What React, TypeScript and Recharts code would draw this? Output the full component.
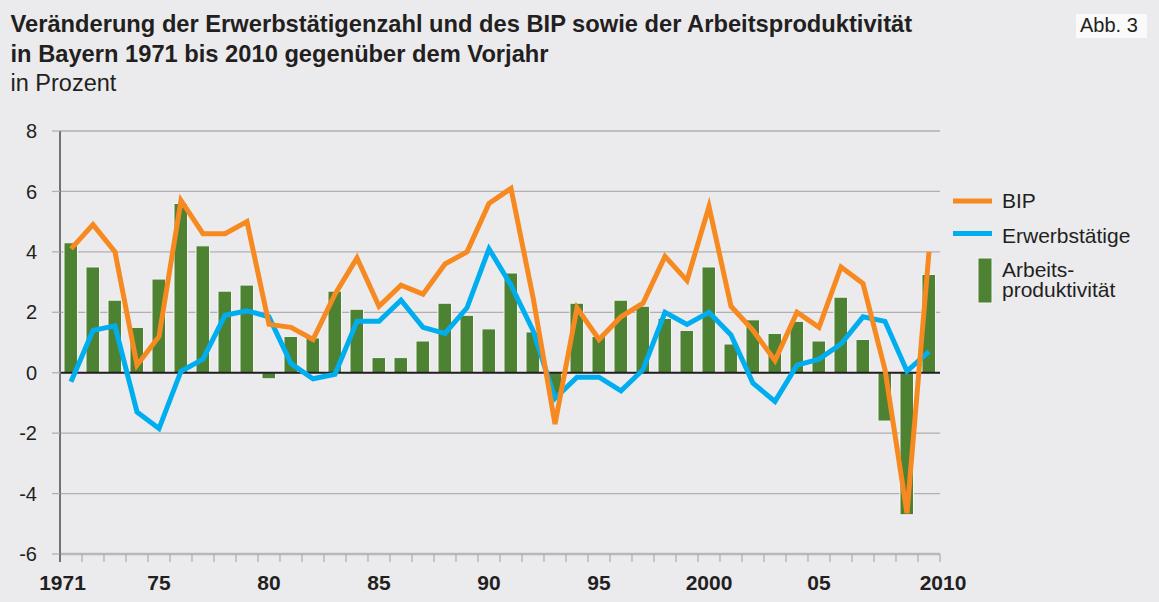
import {
  ComposedChart,
  Bar,
  Line,
  XAxis,
  YAxis,
  CartesianGrid,
  ReferenceLine,
} from "recharts";

const YEARS = [
  1971, 1972, 1973, 1974, 1975, 1976, 1977, 1978, 1979, 1980,
  1981, 1982, 1983, 1984, 1985, 1986, 1987, 1988, 1989, 1990,
  1991, 1992, 1993, 1994, 1995, 1996, 1997, 1998, 1999, 2000,
  2001, 2002, 2003, 2004, 2005, 2006, 2007, 2008, 2009, 2010,
];

const BIP = [
  4.1, 4.9, 4.0, 0.25, 1.2, 5.7, 4.6, 4.6, 5.0, 1.6,
  1.5, 1.1, 2.6, 3.8, 2.2, 2.9, 2.6, 3.6, 4.0, 5.6,
  6.1, 2.5, -1.7, 2.15, 1.1, 1.85, 2.3, 3.85, 3.05, 5.5,
  2.2, 1.4, 0.4, 2.0, 1.5, 3.5, 2.95, 0.1, -4.65, 4.0,
];

const ERWERBSTAETIGE = [
  -0.3, 1.4, 1.55, -1.3, -1.85, 0.05, 0.45, 1.9, 2.05, 1.85,
  0.3, -0.2, -0.05, 1.7, 1.7, 2.4, 1.5, 1.3, 2.15, 4.1,
  2.9, 1.4, -0.85, -0.15, -0.15, -0.6, 0.1, 2.0, 1.6, 2.0,
  1.25, -0.35, -0.95, 0.25, 0.45, 0.95, 1.85, 1.7, 0.05, 0.7,
];

const PRODUKTIVITAET = [
  4.3, 3.5, 2.4, 1.5, 3.1, 5.6, 4.2, 2.7, 2.9, -0.2,
  1.2, 1.15, 2.7, 2.1, 0.5, 0.5, 1.05, 2.3, 1.9, 1.45,
  3.3, 1.35, -0.9, 2.3, 1.2, 2.4, 2.2, 1.8, 1.4, 3.5,
  0.95, 1.75, 1.3, 1.7, 1.05, 2.5, 1.1, -1.6, -4.7, 3.25,
];

const Y_TICKS = [-6, -4, -2, 0, 2, 4, 6, 8];

const X_LABELS: Record<number, string> = {
  1971: "1971",
  1975: "75",
  1980: "80",
  1985: "85",
  1990: "90",
  1995: "95",
  2000: "2000",
  2005: "05",
  2010: "2010",
};

const ORANGE = "#f6891f";
const BLUE = "#00aeef";
const GREEN = "#4c8231";
const BG = "#ebebee";
const GRID = "#b0b0b3";
const AXIS = "#727275";
const TEXT = "#231f20";
const FONT = "'Liberation Sans', Arial, sans-serif";

const data = YEARS.map((year, i) => ({
  year,
  bip: BIP[i],
  erw: ERWERBSTAETIGE[i],
  prod: PRODUKTIVITAET[i],
}));

const XTick = (props: any) => {
  const { x, y, payload, index } = props;
  const half = payload?.offset || 11;
  const label = X_LABELS[payload.value] ?? "";
  const first = index === 0;
  const last = index === YEARS.length - 1;
  // erstes und letztes Label sitzen an den Rändern
  const tx = first ? x - half + 2.5 : last ? x + half + 3 : x;
  return (
    <g>
      <line
        x1={x - half}
        x2={x - half}
        y1={y}
        y2={y + 8}
        stroke={first ? AXIS : GRID}
        strokeWidth={first ? 2 : 1.3}
      />
      {last && (
        <line x1={x + half} x2={x + half} y1={y} y2={y + 8} stroke={GRID} strokeWidth={1.3} />
      )}
      {label && (
        <text
          x={tx}
          y={y + 36}
          textAnchor="middle"
          fontWeight="bold"
          fontSize={21}
          fill={TEXT}
          fontFamily={FONT}
        >
          {label}
        </text>
      )}
    </g>
  );
};

export default function App() {
  return (
    <div
      style={{
        position: "relative",
        width: 1159,
        height: 602,
        background: BG,
        fontFamily: FONT,
        overflow: "hidden",
      }}
    >
      <style>{"body{margin:0}"}</style>

      <ComposedChart
        width={1159}
        height={602}
        data={data}
        margin={{ top: 131, right: 219, bottom: 8, left: 0 }}
        barSize={13.5}
      >
        <CartesianGrid vertical={false} stroke={GRID} strokeWidth={1.3} />
        <XAxis
          dataKey="year"
          interval={0}
          height={40}
          tickSize={0}
          tickMargin={0}
          tickLine={false}
          axisLine={{ stroke: "#b8b8bb", strokeWidth: 2.5 }}
          tick={<XTick />}
        />
        <YAxis
          width={60}
          domain={[-6, 8]}
          ticks={Y_TICKS}
          interval={0}
          tickSize={8}
          tickMargin={15}
          tickLine={{ stroke: GRID, strokeWidth: 1.3 }}
          axisLine={{ stroke: AXIS, strokeWidth: 2 }}
          tick={{ fontSize: 20, fill: TEXT, fontFamily: FONT }}
        />
        <Bar
          dataKey="prod"
          fill={GREEN}
          stroke="#f4f4f4"
          strokeWidth={1}
          isAnimationActive={false}
        />
        <ReferenceLine y={0} stroke={TEXT} strokeWidth={2} />
        <Line
          type="linear"
          dataKey="erw"
          stroke={BLUE}
          strokeWidth={5}
          dot={false}
          activeDot={false}
          isAnimationActive={false}
        />
        <Line
          type="linear"
          dataKey="bip"
          stroke={ORANGE}
          strokeWidth={5}
          dot={false}
          activeDot={false}
          isAnimationActive={false}
        />
      </ComposedChart>

      <svg
        width={1159}
        height={602}
        style={{ position: "absolute", left: 0, top: 0, pointerEvents: "none" }}
        fontFamily={FONT}
      >
        <text x={10.5} y={32.3} fontSize={23.7} fontWeight="bold" fill={TEXT}>
          Veränderung der Erwerbstätigenzahl und des BIP sowie der Arbeitsproduktivität
        </text>
        <text x={10.5} y={61.7} fontSize={23.7} fontWeight="bold" fill={TEXT}>
          in Bayern 1971 bis 2010 gegenüber dem Vorjahr
        </text>
        <text x={10.5} y={90.7} fontSize={23.5} fill={TEXT}>
          in Prozent
        </text>

        <rect x={1076} y={14} width={71} height={24} fill="#fafafa" />
        <text x={1080} y={32} fontSize={20} fill={TEXT}>
          Abb. 3
        </text>

        <rect x={953} y={198.5} width={39} height={5} fill={ORANGE} />
        <text x={1002} y={208} fontSize={21} fill={TEXT}>
          BIP
        </text>
        <rect x={953} y={231} width={39} height={5} fill={BLUE} />
        <text x={1002} y={242.7} fontSize={21} fill={TEXT}>
          Erwerbstätige
        </text>
        <rect x={978} y={258} width={14} height={45} fill={GREEN} stroke="#f4f4f4" strokeWidth={1} />
        <text fontSize={21} fill={TEXT}>
          <tspan x={1002} y={277}>Arbeits-</tspan>
          <tspan x={1002} y={297}>produktivität</tspan>
        </text>
      </svg>
    </div>
  );
}
